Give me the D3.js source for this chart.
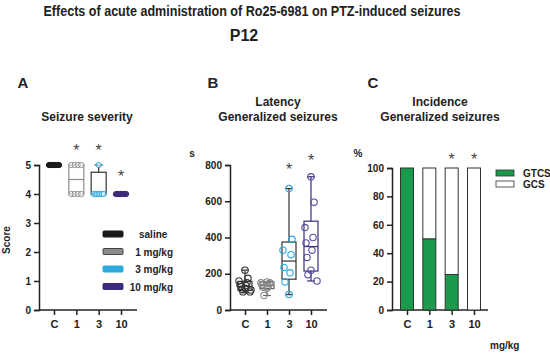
<!DOCTYPE html>
<html>
<head>
<meta charset="utf-8">
<script src="https://cdn.jsdelivr.net/npm/d3@7"></script>
<style>
  body { margin: 0; background: #fff; }
  svg text { font-family: "Liberation Sans Narrow", "Liberation Sans", Arial, sans-serif; font-weight: bold; }
  .axis path, .axis line { stroke: #222; stroke-width: 1.5; }
  .axis text { font-size: 10px; fill: #222; }
</style>
</head>
<body>
<div id="root"></div>
<script>
// groups used on every panel
var groups = ["C", "1", "3", "10"];
var groupColors = ["#1a1a1a", "#8c8c8c", "#2aa9df", "#3c2a7c"];
var legendA = ["saline", "1 mg/kg", "3 mg/kg", "10 mg/kg"];

// A: seizure severity scores (per animal)
var scoreC = [5, 5, 5, 5, 5, 5, 5, 5];
var score1 = [5, 5, 5, 5, 4, 4, 4, 4];
var score3 = [5, 4, 4, 4, 4, 4, 4, 4];
var score10 = [4, 4, 4, 4, 4, 4, 4, 4];
// box stats [low whisker, q1, median, q3, high whisker]
var boxA = [[5, 5, 5, 5, 5], [4, 4, 4.5, 5, 5], [4, 4, 4, 4.75, 5], [4, 4, 4, 4, 4]];
var yTicksA = [0, 1, 2, 3, 4, 5];

// B: latency to generalized seizures (s)
var latC = [220, 175, 160, 150, 140, 135, 130, 120, 115, 110, 100, 100];
var lat1 = [155, 150, 150, 145, 140, 130, 125, 120, 80];
var lat3 = [670, 390, 330, 305, 235, 205, 155, 85];
var lat10 = [735, 595, 455, 400, 370, 330, 290, 220, 195, 160];
var boxB = [[95, 108, 130, 158, 220], [80, 118, 135, 155, 155], [85, 170, 270, 375, 670], [160, 215, 350, 490, 735]];
var yTicksB = [0, 200, 400, 600, 800];

// C: incidence (%)
var gtcs = [100, 50, 25, 0];
var gcs = [0, 50, 75, 100];
var yTicksC = [0, 20, 40, 60, 80, 100];

var green = "#1c9a4c";

var svg = d3.select("#root").append("svg")
  .attr("width", 550)
  .attr("height", 355);

// main titles
svg.append("text").attr("x", 252).attr("y", 16).attr("text-anchor", "middle")
  .style("font-size", "14px").attr("fill", "#222")
  .attr("textLength", 417).attr("lengthAdjust", "spacingAndGlyphs")
  .text("Effects of acute administration of Ro25-6981 on PTZ-induced seizures");
svg.append("text").attr("x", 244).attr("y", 41).attr("text-anchor", "middle")
  .style("font-size", "16px").attr("fill", "#222")
  .text("P12");

function drawAxes(x, y, ticks, x0, x1) {
  svg.append("g")
    .attr("class", "axis")
    .attr("transform", "translate(" + x0 + ",0)")
    .call(d3.axisLeft(y).tickValues(ticks).tickFormat(d3.format("d")).tickSize(5).tickPadding(3));
  var xa = svg.append("g")
    .attr("class", "axis")
    .attr("transform", "translate(0," + y.range()[0] + ")")
    .call(d3.axisBottom(x).tickSize(5).tickPadding(5));
  xa.select(".domain").remove();
  xa.append("line").attr("x1", x0).attr("x2", x1).attr("y1", 0).attr("y2", 0);
  xa.selectAll("text").style("font-size", "11px");
}

function label(txt, x, y, size) {
  svg.append("text").attr("x", x).attr("y", y).attr("text-anchor", "middle")
    .style("font-size", size + "px").attr("fill", "#222").text(txt);
}

function star(x, y) {
  svg.append("text").attr("x", x).attr("y", y).attr("text-anchor", "middle")
    .style("font-size", "16px").style("font-weight", "normal").attr("fill", "#444").text("*");
}

function drawBox(x, y, b, w, col) {
  var cx = x;
  var g = svg.append("g").attr("stroke", col).attr("fill", "none").attr("stroke-width", 1.2);
  g.append("line").attr("x1", cx).attr("x2", cx).attr("y1", y(b[0])).attr("y2", y(b[1]));
  g.append("line").attr("x1", cx).attr("x2", cx).attr("y1", y(b[3])).attr("y2", y(b[4]));
  g.append("line").attr("x1", cx - 4).attr("x2", cx + 4).attr("y1", y(b[0])).attr("y2", y(b[0]));
  g.append("line").attr("x1", cx - 4).attr("x2", cx + 4).attr("y1", y(b[4])).attr("y2", y(b[4]));
  g.append("rect").attr("x", cx - w / 2).attr("width", w)
    .attr("y", y(b[3])).attr("height", Math.max(0.5, y(b[1]) - y(b[3])));
  g.append("line").attr("x1", cx - w / 2).attr("x2", cx + w / 2).attr("y1", y(b[2])).attr("y2", y(b[2]));
}

// ---------- Panel A ----------
var xA = d3.scalePoint().domain(groups).range([54, 121]);
var yA = d3.scaleLinear().domain([0, 5]).range([310, 165]);
drawAxes(xA, yA, yTicksA, 39, 137);
label("A", 23, 88, 15);
label("Seizure severity", 87, 121, 12);
svg.append("text").attr("transform", "translate(10,240) rotate(-90)")
  .attr("text-anchor", "middle").style("font-size", "10px").attr("fill", "#222").text("Score");

var scoresA = [scoreC, score1, score3, score10];
var boxColA = ["#222", "#8c8c8c", "#333", "#3c2a7c"];
scoresA.forEach(function (s, i) {
  var cx = xA(groups[i]);
  drawBox(cx, yA, boxA[i], 15, boxColA[i]);
  var filled = (i == 0 || i == 3);
  var byVal = d3.group(s, function (d) { return d; });
  byVal.forEach(function (vals, v) {
    var n = vals.length;
    var off = d3.scaleLinear().domain([0, Math.max(1, n - 1)]).range(n > 1 ? [-5, 5] : [0, 0]);
    vals.forEach(function (d, j) {
      svg.append("circle")
        .attr("cx", cx + off(j))
        .attr("cy", yA(v))
        .attr("r", 2.6)
        .attr("fill", filled ? groupColors[i] : "#fff")
        .attr("fill-opacity", filled ? 1 : 0.6)
        .attr("stroke", groupColors[i])
        .attr("stroke-width", 1);
    });
  });
});
star(xA("1"), 156);
star(xA("3"), 156);
star(xA("10"), 182);

// legend A
legendA.forEach(function (t, i) {
  var ly = 234 + i * 17.5;
  svg.append("rect").attr("x", 103).attr("y", ly - 3).attr("width", 20).attr("height", 6)
    .attr("rx", 1).attr("fill", groupColors[i]).attr("stroke", i == 1 ? "#444" : groupColors[i]);
  svg.append("text").attr("x", i == 0 ? 139 : 173).attr("y", ly + 4)
    .attr("text-anchor", i == 0 ? "start" : "end")
    .style("font-size", "10px").attr("fill", "#222").text(t);
});

// ---------- Panel B ----------
var xB = d3.scalePoint().domain(groups).range([245, 311]);
var yB = d3.scaleLinear().domain([0, 800]).range([310, 165]);
drawAxes(xB, yB, yTicksB, 230, 327);
label("B", 213, 88, 15);
label("Latency", 278, 106, 12);
label("Generalized seizures", 278, 121, 12);
label("s", 192, 157, 10);

var latB = [latC, lat1, lat3, lat10];
var boxColB = ["#333", "#666", "#333", "#3c2a7c"];
var ptColB = ["#333", "#888", "#2aa9df", "#5a4a9c"];
latB.forEach(function (s, i) {
  var cx = xB(groups[i]);
  drawBox(cx, yB, boxB[i], 14, boxColB[i]);
  s.forEach(function (d, j) {
    var dx = (j % 2 == 0 ? -1 : 1) * ((j * 3) % 7);
    svg.append("circle")
      .attr("cx", cx + dx)
      .attr("cy", yB(d))
      .attr("r", 3.2)
      .attr("fill", "none")
      .attr("stroke", ptColB[i])
      .attr("stroke-width", 1.1);
  });
});
star(xB("3"), 175);
star(xB("10"), 166);

// ---------- Panel C ----------
var xC = d3.scalePoint().domain(groups).range([407, 474]);
var yC = d3.scaleLinear().domain([0, 100]).range([310, 168]);
drawAxes(xC, yC, yTicksC, 392, 488);
label("C", 373, 88, 15);
label("Incidence", 440, 106, 12);
label("Generalized seizures", 440, 121, 12);
label("%", 358, 157, 10);

var bw = 13;
groups.forEach(function (g, i) {
  var cx = xC(g);
  svg.append("rect").attr("x", cx - bw / 2).attr("width", bw)
    .attr("y", yC(gtcs[i] + gcs[i])).attr("height", yC(0) - yC(gcs[i]))
    .attr("fill", "#fff").attr("stroke", "#333").attr("stroke-width", 1);
  if (gtcs[i] > 0) {
    svg.append("rect").attr("x", cx - bw / 2).attr("width", bw)
      .attr("y", yC(gtcs[i])).attr("height", yC(0) - yC(gtcs[i]))
      .attr("fill", green).attr("stroke", "#333").attr("stroke-width", 1);
  }
});
star(xC("3"), 165);
star(xC("10"), 165);

[["GTCS", green], ["GCS", "#fff"]].forEach(function (d, i) {
  var ly = 173 + i * 11;
  svg.append("rect").attr("x", 496).attr("y", ly - 3).attr("width", 18).attr("height", 6)
    .attr("fill", d[1]).attr("stroke", "#333").attr("stroke-width", 0.8);
  svg.append("text").attr("x", 523).attr("y", ly + 4).style("font-size", "10px")
    .attr("fill", "#222").text(d[0]);
});
svg.append("text").attr("x", 490).attr("y", 349).style("font-size", "10px")
  .attr("fill", "#222").text("mg/kg");
</script>
</body>
</html>
